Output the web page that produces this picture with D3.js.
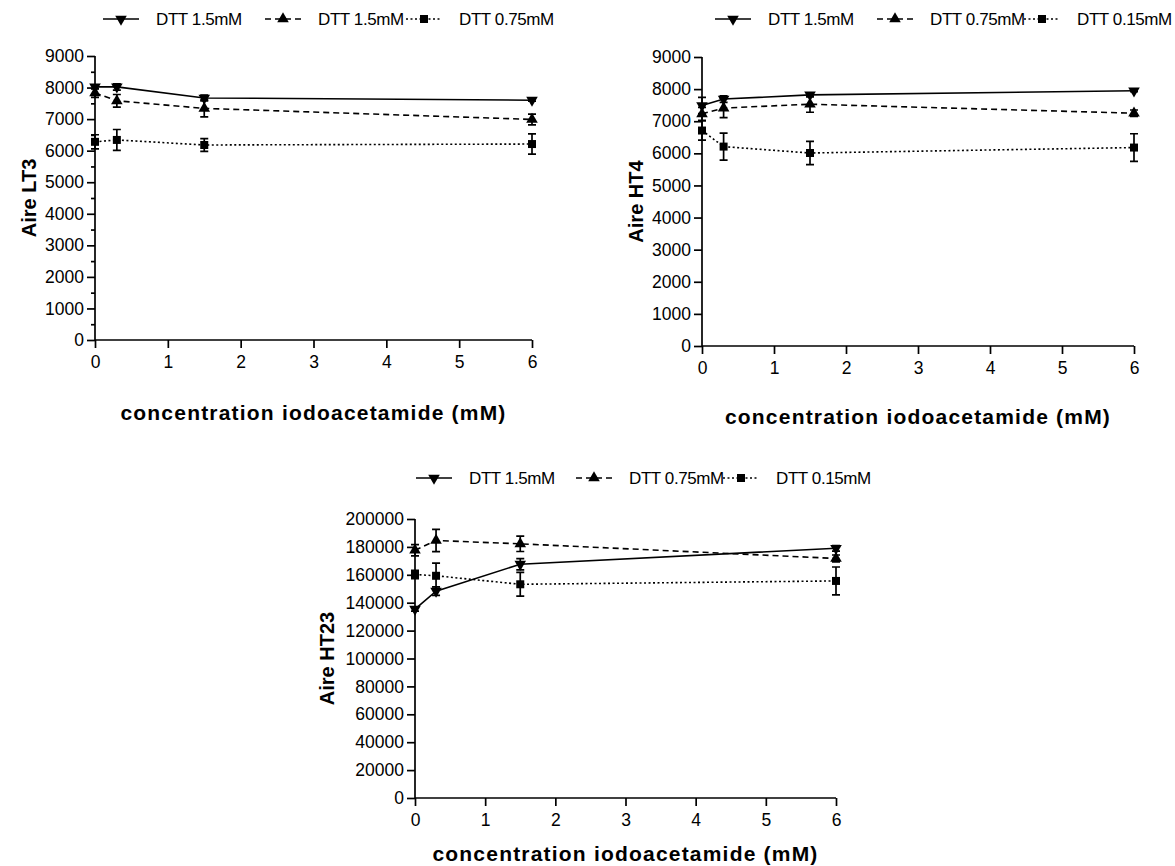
<!DOCTYPE html>
<html><head><meta charset="utf-8">
<script src="https://cdn.jsdelivr.net/npm/d3@7/dist/d3.min.js"></script>
<style>body{margin:0;background:#fff}svg{display:block;font-family:"Liberation Sans",Arial,sans-serif}</style>
</head><body><svg id="c" width="1175" height="866"></svg>
<script>
// ---------- data ----------
const xConc = [0, 0.3, 1.5, 6];
const xTicks = [0, 1, 2, 3, 4, 5, 6];
const xTitle = "concentration iodoacetamide (mM)";

// Panel A: Aire LT3
const lt3Labels = ["DTT 1.5mM", "DTT 1.5mM", "DTT 0.75mM"];
const lt3S1 = [8020, 8020, 7670, 7600];
const lt3S1err = [60, 100, 90, 30];
const lt3S2 = [7830, 7580, 7340, 6990];
const lt3S2err = [140, 200, 270, 170];
const lt3S3 = [6280, 6340, 6180, 6210];
const lt3S3err = [225, 330, 200, 320];
const lt3Ticks = [0, 1000, 2000, 3000, 4000, 5000, 6000, 7000, 8000, 9000];

// Panel B: Aire HT4
const ht4Labels = ["DTT 1.5mM", "DTT 0.75mM", "DTT 0.15mM"];
const ht4S1 = [7490, 7690, 7820, 7950];
const ht4S1err = [250, 100, 60, 30];
const ht4S2 = [7230, 7410, 7530, 7250];
const ht4S2err = [200, 300, 250, 100];
const ht4S3 = [6710, 6210, 6010, 6180];
const ht4S3err = [300, 420, 360, 430];
const ht4Ticks = [0, 1000, 2000, 3000, 4000, 5000, 6000, 7000, 8000, 9000];

// Panel C: Aire HT23
const ht23Labels = ["DTT 1.5mM", "DTT 0.75mM", "DTT 0.15mM"];
const ht23S1 = [135400, 148300, 167600, 179000];
const ht23S1err = [1500, 3000, 4000, 2000];
const ht23S2 = [177600, 184600, 182200, 171700];
const ht23S2err = [4000, 8000, 5500, 2500];
const ht23S3 = [160200, 159300, 153200, 155600];
const ht23S3err = [3000, 9000, 8500, 10000];
const ht23Ticks = [0, 20000, 40000, 60000, 80000, 100000, 120000, 140000, 160000, 180000, 200000];

// ---------- layout ----------
const panels = [
  {yTitle:"Aire LT3", labels:lt3Labels, series:[[lt3S1,lt3S1err],[lt3S2,lt3S2err],[lt3S3,lt3S3err]], yTicks:lt3Ticks, yMax:9000, minor:true,
   x0:95, x1:532, y0:340, y1:56, yTitleX:29, xTitleY:420,
   legY:19, legText:[156,318,459]},
  {yTitle:"Aire HT4", labels:ht4Labels, series:[[ht4S1,ht4S1err],[ht4S2,ht4S2err],[ht4S3,ht4S3err]], yTicks:ht4Ticks, yMax:9000, minor:false,
   x0:702, x1:1134, y0:346, y1:57, yTitleX:636, xTitleY:424,
   legY:19, legText:[768,930,1077]},
  {yTitle:"Aire HT23", labels:ht23Labels, series:[[ht23S1,ht23S1err],[ht23S2,ht23S2err],[ht23S3,ht23S3err]], yTicks:ht23Ticks, yMax:200000, minor:false,
   x0:415, x1:836, y0:798, y1:519, yTitleX:327, xTitleY:861,
   legY:478, legText:[469,629,776]}
];
const styles = [
  {dash:null, sym:"down"},
  {dash:"6,4", sym:"up"},
  {dash:"2,2.5", sym:"square"}
];
const FONT = "'Liberation Sans', Arial, sans-serif";

const svg = d3.select("#c");

function symbolPath(kind){
  if(kind==="square") return d3.symbol(d3.symbolSquare, 64)();
  return d3.symbol(d3.symbolTriangle, 58)();
}
function drawSymbol(g, kind, x, y){
  g.append("path").attr("d", symbolPath(kind))
   .attr("transform", `translate(${x},${y})` + (kind==="down" ? " rotate(180)" : ""))
   .attr("fill", "#000");
}

panels.forEach(p => {
  const g = svg.append("g");
  const x = d3.scaleLinear().domain([0, 6]).range([p.x0, p.x1]);
  const y = d3.scaleLinear().domain([0, p.yMax]).range([p.y0, p.y1]);

  // axes
  const xa = g.append("g").attr("transform", `translate(0,${p.y0})`)
    .call(d3.axisBottom(x).tickValues(xTicks).tickFormat(d3.format("d")).tickSize(8).tickPadding(8));
  const ya = g.append("g").attr("transform", `translate(${p.x0},0)`)
    .call(d3.axisLeft(y).tickValues(p.yTicks).tickFormat(d3.format("d")).tickSize(8).tickPadding(3));
  if(p.minor){
    const step = p.yTicks[1] - p.yTicks[0];
    const minorVals = p.yTicks.slice(0, -1).map(v => v + step/2);
    g.append("g").attr("transform", `translate(${p.x0},0)`)
      .call(d3.axisLeft(y).tickValues(minorVals).tickFormat("").tickSize(4))
      .select(".domain").remove();
  }
  [xa, ya].forEach(a => {
    a.select(".domain").attr("stroke", "#000").attr("stroke-width", 1.7);
    a.selectAll(".tick text").attr("font-size", 17.5).attr("fill", "#000")
      .attr("font-family", FONT);
  });
  g.selectAll(".tick line").attr("stroke", "#000").attr("stroke-width", 1.7);
  xa.select(".domain").attr("d", `M${p.x0},0H${p.x1}`);
  ya.select(".domain").attr("d", `M0,${p.y0}V${p.y1}`);

  // titles
  g.append("text").attr("x", (p.x0 + p.x1)/2).attr("y", p.xTitleY)
    .attr("text-anchor", "middle").attr("font-size", 21).attr("font-weight", "bold")
    .attr("letter-spacing", "1.2px").text(xTitle);
  g.append("text").attr("transform", `translate(${p.yTitleX},${(p.y0 + p.y1)/2}) rotate(-90)`)
    .attr("text-anchor", "middle").attr("dominant-baseline", "central")
    .attr("font-size", 20).attr("font-weight", "bold").text(p.yTitle);

  // series
  p.series.forEach((s, i) => {
    const vals = s[0], errs = s[1], st = styles[i];
    const pts = xConc.map((c, k) => ({x: c, y: vals[k], e: errs[k]}));
    const line = d3.line().x(d => x(d.x)).y(d => y(d.y));
    g.append("path").attr("d", line(pts)).attr("fill", "none").attr("stroke", "#000")
      .attr("stroke-width", 1.6).attr("stroke-dasharray", st.dash);
    pts.forEach(d => {
      const cx = x(d.x), yt = y(d.y + d.e), yb = y(d.y - d.e);
      g.append("path").attr("d", `M${cx},${yt}V${yb}M${cx-4},${yt}H${cx+4}M${cx-4},${yb}H${cx+4}`)
        .attr("stroke", "#000").attr("stroke-width", 1.7).attr("fill", "none");
      drawSymbol(g, st.sym, cx, y(d.y));
    });
  });

  // legend
  p.labels.forEach((lab, i) => {
    const st = styles[i];
    const cx = p.legText[i] - 35;
    g.append("line").attr("x1", cx - 18).attr("x2", cx + 18).attr("y1", p.legY).attr("y2", p.legY)
      .attr("stroke", "#000").attr("stroke-width", 1.6).attr("stroke-dasharray", st.dash);
    drawSymbol(g, st.sym, cx, p.legY);
    g.append("text").attr("x", p.legText[i]).attr("y", p.legY).attr("dominant-baseline", "central")
      .attr("font-size", 17).attr("letter-spacing", "-0.4px").text(lab);
  });
});
</script></body></html>
